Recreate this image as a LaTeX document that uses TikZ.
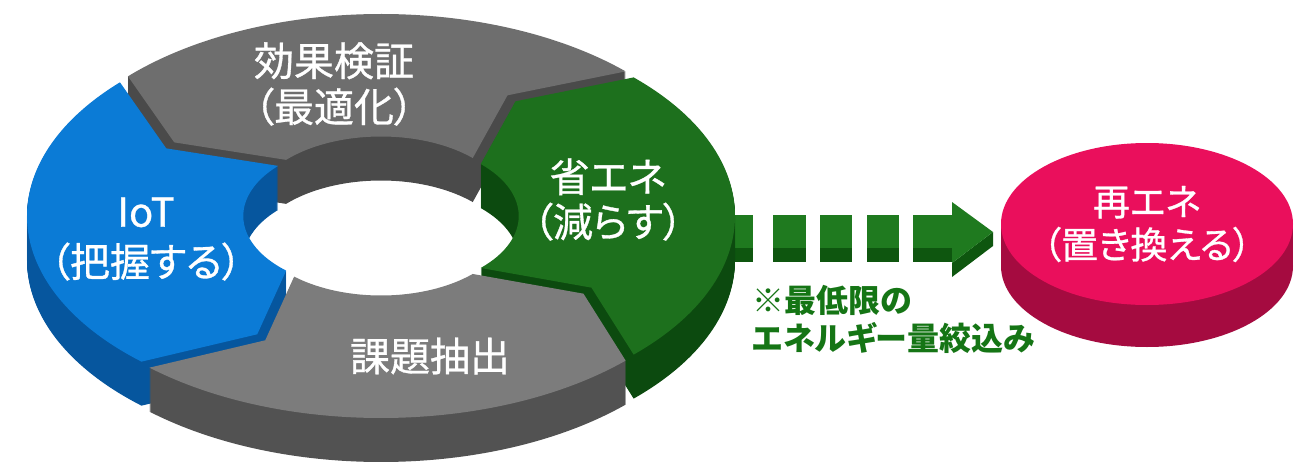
\documentclass[tikz,border=0pt]{standalone}
\usepackage{fontspec}
\setmainfont{Noto Sans CJK JP}[RawFeature={+palt}]
\newfontfamily\lblfont{Noto Sans CJK JP}[RawFeature={+palt}, FakeBold=0.8]
\usetikzlibrary{shapes.geometric}
\definecolor{gtop}{HTML}{6E6E6E}
\definecolor{gtopside}{HTML}{4A4A4A}
\definecolor{gbot}{HTML}{7C7C7C}
\definecolor{gbotside}{HTML}{525252}
\definecolor{btop}{HTML}{0B7BD6}
\definecolor{bside}{HTML}{06569E}
\definecolor{grtop}{HTML}{1D701D}
\definecolor{grside}{HTML}{0C4A0F}
\definecolor{ptop}{HTML}{EA0F5C}
\definecolor{pside}{HTML}{A50B40}
\definecolor{atop}{HTML}{1F7A1F}
\definecolor{aside}{HTML}{0E560F}
\definecolor{notecol}{HTML}{157515}
% ring geometry, in pixel units (1px = 0.5pt)
\def\rcx{381}\def\rcy{216}\def\RA{346}\def\RB{196}\def\RI{0.375}\def\RM{0.69}\def\rdelta{13}
% #1 colour, #2 start angle, #3 end angle, #4 dx, #5 dy
\newcommand{\segpath}[5]{%
  \fill[#1,shift={(#4,{#5})}]
    ({\rcx+\RA*cos(#2)},{\rcy-\RB*sin(#2)})
    arc[start angle=#2, end angle=#3, x radius=173pt, y radius=98pt]
    -- ({\rcx+\RM*\RA*cos(#3+\rdelta)},{\rcy-\RM*\RB*sin(#3+\rdelta)})
    -- ({\rcx+\RI*\RA*cos(#3)},{\rcy-\RI*\RB*sin(#3)})
    arc[start angle=#3, end angle=#2, x radius=64.875pt, y radius=36.75pt]
    -- ({\rcx+\RM*\RA*cos(#2+\rdelta)},{\rcy-\RM*\RB*sin(#2+\rdelta)})
    -- cycle;}
% #1 top colour, #2 side colour, #3 start, #4 end, #5 dx, #6 dy
\newcommand{\ringseg}[6]{%
  \foreach \k in {1,...,44}{\segpath{#2}{#3}{#4}{#5}{#6+\k}}%
  \segpath{#1}{#3}{#4}{#5}{#6}}
\tikzset{
  lbl/.style={text=white, align=center, inner sep=0pt},
  notelbl/.style={text=notecol, align=left, inner sep=0pt, anchor=west,
    font=\fontsize{16}{19}\bfseries\selectfont},
}
\begin{document}
\begin{tikzpicture}[x=0.5pt,y=-0.5pt]
\fill[white] (0,0) rectangle (1303,466);
\useasboundingbox (0,0) rectangle (1303,466);

% dashed block arrow
\foreach \a/\b in {715/753,773/806,820/852,867/899,913/953}{
  \fill[aside] (\a,229) rectangle (\b,262);
  \fill[atop] (\a,215) rectangle (\b,248);
}
\fill[aside] (993,232) -- (993,246) -- (952,277) -- (952,263) -- cycle;
\fill[atop] (952,202) -- (993,232) -- (952,263) -- cycle;

% ring segments
\ringseg{gtop}{gtopside}{45}{137}{0}{-6}
\ringseg{btop}{bside}{137}{228}{-8}{0}
\ringseg{grtop}{grside}{-45}{45}{8}{0}
\ringseg{gbot}{gbotside}{228}{315}{0}{6}

% disk
\fill[pside] (1001,224) rectangle (1293,266);
\fill[pside] (1147,266) ellipse [x radius=73pt, y radius=40.5pt];
\node[ellipse, fill=ptop, minimum width=146pt, minimum height=81pt, inner sep=0pt] (disk) at (1147,224) {};

% labels
\node[lbl, font=\lblfont\fontsize{20}{23}\selectfont] (verify) at (334,84) {効果検証\\（最適化）};
\node[lbl, font=\lblfont\fontsize{20}{25}\selectfont] (iot) at (146,239) {IoT\\（把握する）};
\node[lbl, font=\lblfont\fontsize{20}{22.5}\selectfont] (save) at (608,199.5) {省エネ\\（減らす）};
\node[lbl, font=\lblfont\fontsize{20}{24}\selectfont] (issue) at (430,356) {課題抽出};
\node[lbl, font=\lblfont\fontsize{18.5}{21.5}\selectfont] (renew) at (disk.center) {再エネ\\（置き換える）};
\node[notelbl] (note) at (752,319) {※最低限の\\エネルギー量絞込み};
\end{tikzpicture}
\end{document}
